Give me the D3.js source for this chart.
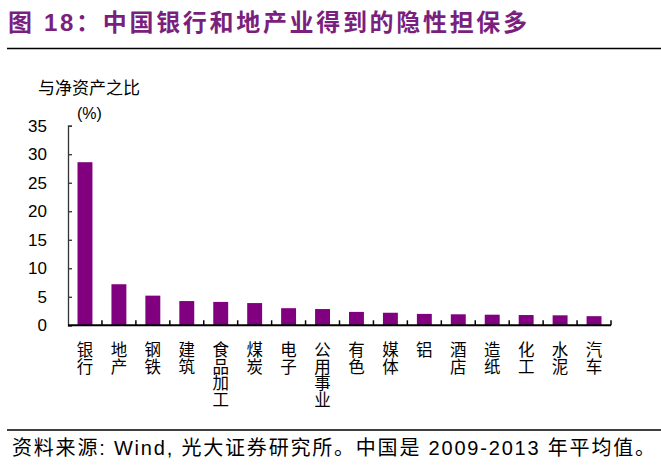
<!DOCTYPE html>
<html><head><meta charset="utf-8">
<script src="https://cdn.jsdelivr.net/npm/d3@7"></script>
<style>
body{margin:0;background:#fff;}
svg{display:block;}
</style></head>
<body>
<svg id="c" width="661" height="467"></svg>
<script>
const categories = ["银行","地产","钢铁","建筑","食品加工","煤炭","电子","公用事业","有色","媒体","铝","酒店","造纸","化工","水泥","汽车"];
const values = [28.6,7.2,5.2,4.25,4.1,3.9,3.0,2.85,2.35,2.2,2.0,1.93,1.86,1.8,1.75,1.6];
const yTicks = [0,5,10,15,20,25,30,35];
const titleText = "图 18：中国银行和地产业得到的隐性担保多";
const yLabel = "与净资产之比";
const unitLabel = "(%)";
const sourceText = "资料来源: Wind, 光大证券研究所。中国是 2009-2013 年平均值。";

const svg = d3.select("#c");
const cjk = "'Noto Sans CJK SC','Liberation Sans',Arial,sans-serif";
const latin = "'Liberation Sans',Arial,'Noto Sans CJK SC',sans-serif";

// title
svg.append("text").attr("x",8).attr("y",31)
  .attr("fill","#7B1F7E").attr("font-size",24).attr("font-weight","bold")
  .attr("font-family",latin).attr("textLength",519).attr("lengthAdjust","spacing")
  .text(titleText);
svg.append("line").attr("x1",7).attr("x2",661).attr("y1",48.5).attr("y2",48.5)
  .attr("stroke","#000").attr("stroke-width",1.5);

const x0 = 68, x1 = 611, yTop = 125.7, yBot = 325.3;
const x = d3.scaleBand().domain(categories).range([x0,x1]).paddingInner(0.56).paddingOuter(0.28);
const y = d3.scaleLinear().domain([0,35]).range([yBot,yTop]);

// bars
svg.append("g").selectAll("rect").data(values).join("rect")
  .attr("x",(d,i)=>x(categories[i]))
  .attr("width",x.bandwidth())
  .attr("y",d=>y(d))
  .attr("height",d=>yBot-y(d))
  .attr("fill","#800080");

// y axis
const ya = svg.append("g").attr("transform",`translate(${x0},0)`)
  .call(d3.axisRight(y).tickValues(yTicks).tickSize(4).tickFormat(""));
ya.select(".domain").attr("stroke","#333").attr("stroke-width",1.3);
ya.selectAll(".tick line").attr("stroke","#333").attr("stroke-width",1.3);
svg.append("g").selectAll("text").data(yTicks).join("text")
  .attr("x",47).attr("y",d=>y(d)+6).attr("text-anchor","end")
  .attr("font-size",17).attr("font-family",latin).attr("fill","#000").text(d=>d);

// x axis with boundary ticks
const bounds = d3.range(categories.length+1).map(i=>x0 + i*(x1-x0)/categories.length);
svg.append("line").attr("x1",x0).attr("x2",x1).attr("y1",yBot).attr("y2",yBot)
  .attr("stroke","#000").attr("stroke-width",2);
svg.append("g").selectAll("line").data(bounds.slice(1)).join("line")
  .attr("x1",d=>d).attr("x2",d=>d).attr("y1",yBot).attr("y2",yBot-5)
  .attr("stroke","#000").attr("stroke-width",1.5);

// x labels stacked vertically, one text element per category
svg.append("g").selectAll("text").data(categories).join("text")
  .attr("text-anchor","middle").attr("font-size",16.5).attr("font-family",cjk).attr("fill","#000")
  .each(function(d){
    const cx = x(d)+x.bandwidth()/2;
    const t = d3.select(this);
    Array.from(d).forEach((ch,j)=>{
      t.append("tspan").attr("x",cx).attr("y",356+j*16.7).text(ch);
    });
  });

// axis titles
svg.append("text").attr("x",38).attr("y",94).attr("font-size",17)
  .attr("font-family",cjk).attr("fill","#000").text(yLabel);
svg.append("text").attr("x",77).attr("y",119).attr("font-size",16)
  .attr("font-family",latin).attr("fill","#000").text(unitLabel);

// bottom line and source
svg.append("line").attr("x1",7).attr("x2",661).attr("y1",430).attr("y2",430)
  .attr("stroke","#000").attr("stroke-width",1.5);
svg.append("text").attr("x",12).attr("y",455).attr("font-size",20)
  .attr("font-family",latin).attr("fill","#000")
  .attr("textLength",643).attr("lengthAdjust","spacing").text(sourceText);
</script>
</body></html>
